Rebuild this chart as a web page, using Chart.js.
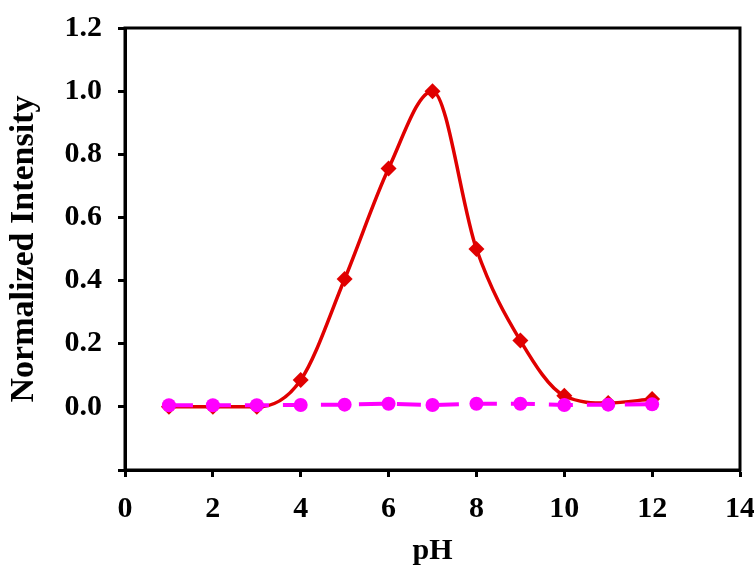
<!DOCTYPE html>
<html>
<head>
<meta charset="utf-8">
<script src="https://cdn.jsdelivr.net/npm/chart.js@4/dist/chart.umd.min.js"></script>
<style>
  html, body { margin: 0; padding: 0; background: #fff; }
  #wrap { width: 754px; height: 573px; }
</style>
</head>
<body>
<div id="wrap"><canvas id="chart" width="754" height="573"></canvas></div>
<script>
const phValues = [1, 2, 3, 4, 5, 6, 7, 8, 9, 10, 11, 12];
const redIntensity = [0.0, 0.0, 0.0, 0.085, 0.405, 0.755, 1.0, 0.5, 0.21, 0.035, 0.012, 0.025];
const magentaIntensity = [0.005, 0.005, 0.005, 0.006, 0.007, 0.01, 0.006, 0.01, 0.01, 0.006, 0.007, 0.008];
const xTicks = [0, 2, 4, 6, 8, 10, 12, 14];
const yTicks = [0.0, 0.2, 0.4, 0.6, 0.8, 1.0, 1.2];

const serif = "'Liberation Serif', 'Times New Roman', serif";
const tickFont = { family: serif, size: 30, weight: "bold" };
const titleFont = { family: serif, size: 34, weight: "bold" };

// full box around the plot area
const frame = {
    id: "frame",
    afterDraw(chart) {
        const { ctx, chartArea: a } = chart;
        ctx.save();
        ctx.strokeStyle = "#000";
        ctx.lineWidth = 3;
        ctx.strokeRect(a.left, a.top, a.right - a.left, a.bottom - a.top);
        ctx.restore();
    }
};

const toPoints = (ys) => phValues.map((x, i) => ({ x: x, y: ys[i] }));
const tickGrid = { drawOnChartArea: false, drawTicks: true, tickLength: 7, tickWidth: 3, tickColor: "#000" };

new Chart(document.getElementById("chart"), {
    type: "line",
    data: {
        datasets: [
            {
                label: "magenta",
                data: toPoints(magentaIntensity),
                borderColor: "#ff00ff",
                backgroundColor: "#ff00ff",
                borderWidth: 4,
                borderDash: [24, 14],
                pointStyle: "circle",
                pointRadius: 7,
                pointBorderWidth: 0,
                tension: 0,
                order: 0
            },
            {
                label: "red",
                data: toPoints(redIntensity),
                borderColor: "#e00000",
                backgroundColor: "#e00000",
                borderWidth: 3.5,
                pointStyle: "rectRot",
                pointRadius: 8,
                pointBorderWidth: 0,
                cubicInterpolationMode: "monotone",
                order: 1
            }
        ]
    },
    options: {
        responsive: false,
        animation: false,
        layout: { padding: { top: 28, right: 14, left: 0, bottom: 0 } },
        plugins: { legend: { display: false }, tooltip: { enabled: false } },
        scales: {
            x: {
                type: "linear",
                min: 0,
                max: 14,
                afterBuildTicks: (axis) => { axis.ticks = xTicks.map(v => ({ value: v })); },
                afterFit: (axis) => { axis.height = 103; axis.paddingLeft = 0; axis.paddingRight = 0; },
                ticks: { color: "#000", font: tickFont, padding: 14, maxRotation: 0 },
                grid: tickGrid,
                border: { display: true, color: "#000", width: 3 },
                title: { display: true, text: "pH", color: "#000", font: tickFont, padding: { top: 0, bottom: 4 } }
            },
            y: {
                min: -0.2,
                max: 1.2,
                afterBuildTicks: (axis) => { axis.ticks = [-0.2].concat(yTicks).map(v => ({ value: v })); },
                afterFit: (axis) => { axis.width = 125; axis.paddingTop = 0; axis.paddingBottom = 0; },
                ticks: {
                    color: "#000",
                    font: tickFont,
                    padding: 16,
                    callback: (v) => (v < -0.01 ? "" : Number(v).toFixed(1))
                },
                grid: tickGrid,
                border: { display: true, color: "#000", width: 3 },
                title: { display: true, text: "Normalized Intensity", color: "#000", font: titleFont, padding: { top: 4, bottom: 0 } }
            }
        }
    },
    plugins: [frame]
});
</script>
</body>
</html>
